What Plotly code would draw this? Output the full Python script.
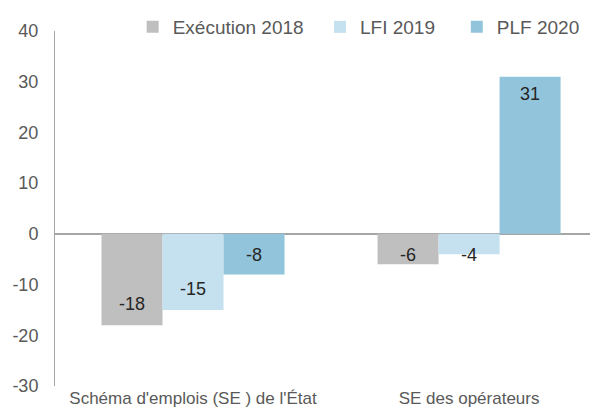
import plotly.graph_objects as go

categories = ["Schéma d'emplois (SE ) de l'État", "SE des opérateurs"]
series_names = ["Exécution 2018", "LFI 2019", "PLF 2020"]
exec_2018 = [-18, -6]
lfi_2019 = [-15, -4]
plf_2020 = [-8, 31]
colors = ["#BFBFBF", "#C5E0EE", "#92C5DB"]
y_ticks = [40, 30, 20, 10, 0, -10, -20, -30]
legend_x = [0.143, 0.488, 0.740]


def label_pos(v):
    # Excel "inside end" style label placement
    if v > 0:
        return v - 3.8
    return min(v + 3.8, -4.4)


legend_ids = ["legend", "legend2", "legend3"]
fig = go.Figure()
for i, (name, vals, col) in enumerate(zip(series_names, [exec_2018, lfi_2019, plf_2020], colors)):
    fig.add_trace(go.Bar(
        x=categories, y=vals, name=name, offsetgroup=str(i), legend=legend_ids[i],
        marker=dict(color=col, line=dict(width=0)),
    ))
for i, vals in enumerate([exec_2018, lfi_2019, plf_2020]):
    fig.add_trace(go.Scatter(
        x=categories, y=[label_pos(v) for v in vals], mode="text",
        text=[str(v) for v in vals], offsetgroup=str(i), showlegend=False,
        textfont=dict(family="Liberation Sans, Arial", size=18, color="#262626"),
        hoverinfo="skip",
    ))

legend_style = dict(orientation="h", y=1.01, xanchor="left", yanchor="middle",
                    font=dict(size=19, color="#595959"), itemwidth=30,
                    bgcolor="rgba(0,0,0,0)")

# page body has an 8px margin: figure is sized to fill the remaining window
fig.update_layout(
    width=590, height=402,
    margin=dict(l=47, r=0, t=22, b=24),
    plot_bgcolor="white", paper_bgcolor="white",
    barmode="group", bargap=0.337, bargroupgap=0,
    scattermode="group", scattergap=0.337,
    font=dict(family="Liberation Sans, Arial", size=18, color="#595959"),
    legend=dict(x=legend_x[0], **legend_style),
    legend2=dict(x=legend_x[1], **legend_style),
    legend3=dict(x=legend_x[2], **legend_style),
    xaxis=dict(range=[-0.5, 1.467], showline=False, ticks="", showgrid=False,
               automargin=False, ticklabelstandoff=0,
               tickfont=dict(size=17, color="#595959")),
    yaxis=dict(range=[-30, 40], tickvals=y_ticks, ticktext=[str(v) for v in y_ticks],
               showgrid=False, zeroline=True,
               zerolinecolor="#A6A6A6", zerolinewidth=2,
               showline=True, linecolor="#A6A6A6", linewidth=1,
               ticks="", ticklabelstandoff=12, automargin=False,
               tickfont=dict(size=18, color="#595959")),
)
fig.write_html("out.html")
